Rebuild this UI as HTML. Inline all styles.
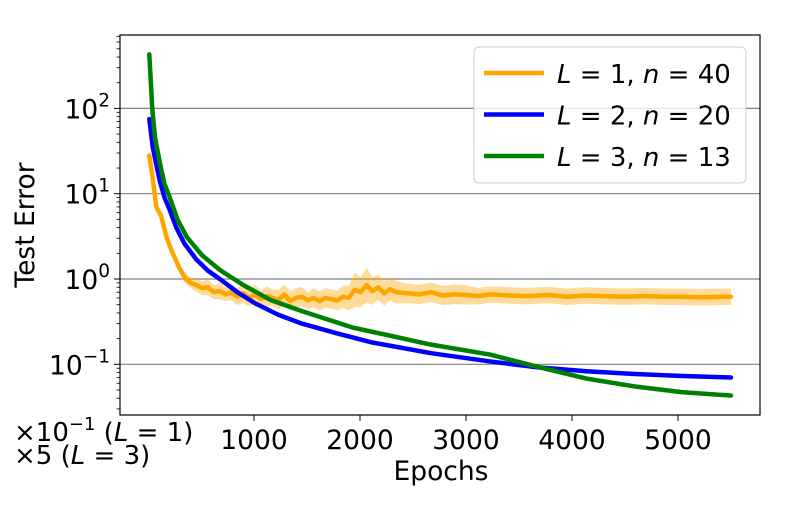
<!DOCTYPE html>
<html><head><meta charset="utf-8"><style>
body{margin:0;background:#fff;}
svg text{font-family:"DejaVu Sans","Liberation Sans",sans-serif;fill:#000;}
</style></head><body>
<svg id="chart" width="800" height="500" xmlns="http://www.w3.org/2000/svg">
<rect width="800" height="500" fill="#fff"/>
<g id="grid"></g>
<g id="bands"></g>
<g id="lines"></g>
<g id="axes"></g>
</svg>
<script>
const orangeEpochs=[12,45,78,123,178,233,289,344,400,455,510,566,621,677,732,787,843,898,954,1009,1064,1120,1175,1231,1286,1341,1397,1452,1508,1563,1618,1674,1729,1785,1840,1895,1951,2006,2062,2117,2172,2228,2283,2339,2449,2560,2671,2782,2893,3004,3115,3226,3408,3590,3772,3954,4136,4318,4500,4682,4864,5045,5227,5409,5500];
const orangeVals=[28,15,7,5.5,3,2.0,1.4,1.05,0.9,0.85,0.78,0.8,0.7,0.72,0.66,0.7,0.62,0.68,0.6,0.66,0.58,0.63,0.6,0.57,0.66,0.55,0.6,0.62,0.56,0.6,0.55,0.6,0.58,0.56,0.62,0.6,0.75,0.7,0.85,0.72,0.8,0.68,0.76,0.7,0.68,0.66,0.7,0.64,0.66,0.65,0.63,0.66,0.64,0.63,0.65,0.62,0.64,0.63,0.62,0.63,0.62,0.62,0.61,0.62,0.62];
const orangeSpread=[1.1,1.1,1.1,1.1,1.1,1.1,1.1,1.15,1.15,1.2,1.2,1.25,1.2,1.25,1.2,1.25,1.25,1.3,1.25,1.3,1.25,1.3,1.25,1.3,1.3,1.3,1.3,1.3,1.25,1.3,1.3,1.3,1.3,1.3,1.35,1.4,1.6,1.5,1.6,1.45,1.4,1.4,1.35,1.35,1.3,1.3,1.3,1.3,1.3,1.3,1.25,1.25,1.25,1.25,1.25,1.25,1.25,1.25,1.25,1.25,1.25,1.25,1.25,1.25,1.25];
const blueEpochs=[12,45,78,112,156,206,267,344,455,566,677,843,1009,1231,1452,1785,2117,2671,3226,3681,4136,4590,5045,5500];
const blueVals=[75,35,22,14,9,6.4,4,2.6,1.7,1.25,1.0,0.7,0.52,0.38,0.3,0.23,0.18,0.135,0.108,0.092,0.083,0.077,0.073,0.07];
const greenEpochs=[12,23,40,67,112,156,206,278,366,510,677,898,1153,1452,1929,2117,2671,3226,3681,4136,4590,5045,5500];
const greenVals=[430,250,100,45,23,13,9,5,3.1,1.9,1.28,0.85,0.57,0.42,0.27,0.24,0.17,0.13,0.093,0.068,0.055,0.047,0.043];
const xTicks=[1000,2000,3000,4000,5000];
const yTicks=[-1,0,1,2];
const legendLabels=[["L","1","n","40"],["L","2","n","20"],["L","3","n","13"]];
const colors=["#ffa500","#0000ff","#008000"];

const L=120,R=760,T=35,B=415;
const xs=e=>148+e*0.106;
const ys=v=>279-Math.log10(v)*85.3;
const NS="http://www.w3.org/2000/svg";
function mk(tag,attrs,parent){const el=document.createElementNS(NS,tag);for(const k in attrs)el.setAttribute(k,attrs[k]);parent.appendChild(el);return el;}
const grid=document.getElementById('grid'),bands=document.getElementById('bands'),lines=document.getElementById('lines'),axes=document.getElementById('axes');

yTicks.forEach(p=>{
 const y=ys(Math.pow(10,p));
 const g=mk('line',{x1:L,x2:R,y1:y,y2:y,stroke:'#808080','stroke-width':1.2},grid);
 
 
 mk('line',{x1:L-6,x2:L,y1:y,y2:y,stroke:'#000','stroke-width':1},axes);
 const t=mk('text',{x:L-10,y:y+10,'font-size':26.5,'text-anchor':'end'},axes);
 
 
 t.textContent='10';
 const s=mk('tspan',{dy:-12,'font-size':18.5},t);s.textContent=String(p).replace('-','−');
});
for(let p=-2;p<=2;p++){for(let m=2;m<10;m++){const y=ys(m*Math.pow(10,p));if(y>T&&y<B)mk('line',{x1:L-3.5,x2:L,y1:y,y2:y,stroke:'#000','stroke-width':0.8},axes);}}
xTicks.forEach(e=>{
 const x=xs(e);
 mk('line',{x1:x,x2:x,y1:B,y2:B+6,stroke:'#000','stroke-width':1},axes);
 const t=mk('text',{x:x,y:B+34,'font-size':26.5,'text-anchor':'middle'},axes);
 
 
 t.textContent=e;
});
const fr=mk('rect',{x:L,y:T,width:R-L,height:B-T,fill:'none',stroke:'#000','stroke-width':1.2},axes);



let up=orangeEpochs.map((e,i)=>xs(e)+','+ys(orangeVals[i]*orangeSpread[i]));
let lo=orangeEpochs.map((e,i)=>xs(e)+','+ys(orangeVals[i]/orangeSpread[i])).reverse();
const band=mk('polygon',{points:up.concat(lo).join(' '),fill:'#ffa500','fill-opacity':0.4,stroke:'none'},bands);


const gband=mk('polygon',{points:greenEpochs.map((e,i)=>xs(e)+','+ys(greenVals[i]*1.06)).concat(greenEpochs.map((e,i)=>xs(e)+','+ys(greenVals[i]/1.06)).reverse()).join(' '),fill:'#008000','fill-opacity':0.35,stroke:'none'},bands);



[[orangeEpochs,orangeVals,'line-l1'],[blueEpochs,blueVals,'line-l2'],[greenEpochs,greenVals,'line-l3']].forEach((s,k)=>{
 const pts=s[0].map((e,i)=>xs(e)+','+ys(s[1][i])).join(' ');
 const pl=mk('polyline',{points:pts,fill:'none',stroke:colors[k],'stroke-width':4.5,'stroke-linejoin':'round','stroke-linecap':'round'},lines);
 
 
});

const lg=mk('g',{},axes);


mk('rect',{x:474,y:47,width:272,height:136,rx:5,fill:'#fff','fill-opacity':0.8,stroke:'#ccc','stroke-width':1},lg);
legendLabels.forEach((lab,i)=>{
 const y=73+i*41.5;
 const ln=mk('line',{x1:484,x2:544,y1:y,y2:y,stroke:colors[i],'stroke-width':4.5},lg);
 
 
 const t=mk('text',{x:557,y:y+10,'font-size':26},lg);
 
 
 const a=mk('tspan',{'font-style':'italic'},t);a.textContent=lab[0];
 const b=mk('tspan',{},t);b.textContent=' = '+lab[1]+', ';
 const c=mk('tspan',{'font-style':'italic'},t);c.textContent=lab[2];
 const d=mk('tspan',{},t);d.textContent=' = '+lab[3];
});
</script>
<svg style="position:absolute;left:0;top:0" width="800" height="500" xmlns="http://www.w3.org/2000/svg">
<text transform="translate(34,225) rotate(-90)" font-size="26.5" text-anchor="middle" style="font-family:'DejaVu Sans','Liberation Sans',sans-serif">Test Error</text>
<text x="441" y="480" font-size="26.5" text-anchor="middle" style="font-family:'DejaVu Sans','Liberation Sans',sans-serif">Epochs</text>
<text x="14" y="441" font-size="26" style="font-family:'DejaVu Sans','Liberation Sans',sans-serif">×10<tspan dy="-11" font-size="18">−1</tspan><tspan dy="11"> (</tspan><tspan font-style="italic">L</tspan> = 1)</text>
<text x="14" y="464" font-size="26" style="font-family:'DejaVu Sans','Liberation Sans',sans-serif">×5 (<tspan font-style="italic">L</tspan> = 3)</text>
</svg>
</body></html>
